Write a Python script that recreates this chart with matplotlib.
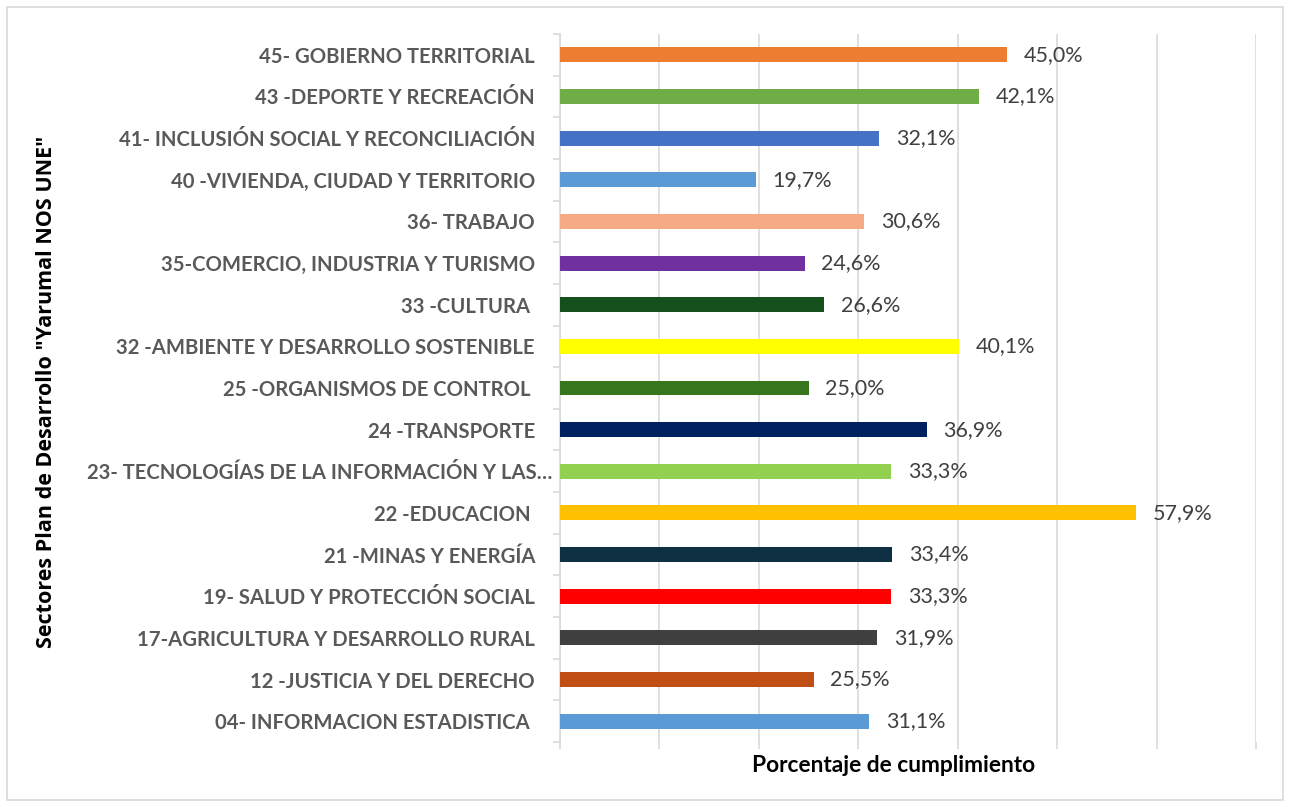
import matplotlib
matplotlib.use("Agg")
import matplotlib.pyplot as plt
from matplotlib.patches import Rectangle
import matplotlib.transforms as mtransforms
import numpy as np

categories = [
    "45- GOBIERNO TERRITORIAL",
    "43 -DEPORTE Y RECREACIÓN",
    "41- INCLUSIÓN SOCIAL Y RECONCILIACIÓN",
    "40 -VIVIENDA, CIUDAD Y TERRITORIO",
    "36- TRABAJO",
    "35-COMERCIO, INDUSTRIA Y TURISMO",
    "33 -CULTURA ",
    "32 -AMBIENTE Y DESARROLLO SOSTENIBLE",
    "25 -ORGANISMOS DE CONTROL ",
    "24 -TRANSPORTE",
    "23- TECNOLOGÍAS DE LA INFORMACIÓN Y LAS…",
    "22 -EDUCACION ",
    "21 -MINAS Y ENERGÍA",
    "19- SALUD Y PROTECCIÓN SOCIAL",
    "17-AGRICULTURA Y DESARROLLO RURAL",
    "12 -JUSTICIA Y DEL DERECHO",
    "04- INFORMACION ESTADISTICA ",
]
values = [45.0, 42.1, 32.1, 19.7, 30.6, 24.6, 26.6, 40.1, 25.0, 36.9,
          33.3, 57.9, 33.4, 33.3, 31.9, 25.5, 31.1]
colors = ["#ED7D31", "#70AD47", "#4472C4", "#5B9BD5", "#F4AA84", "#7030A0",
          "#154F1B", "#FFFF00", "#38761D", "#002060", "#92D050", "#FFC000",
          "#0E3042", "#FF0000", "#404040", "#C04F15", "#5B9BD5"]
xlabel = "Porcentaje de cumplimiento"
ylabel = 'Sectores Plan de Desarrollo "Yarumal NOS UNE"'

plt.rcParams['font.family'] = ['Lato', 'DejaVu Sans']

W, H = 1290, 807
fig = plt.figure(figsize=(W/100, H/100), dpi=100)
fig.patch.set_facecolor("white")
fig.patches.append(Rectangle((7/W, 7/H), (1283-7)/W, (800-7)/H,
                             transform=fig.transFigure, fill=False,
                             edgecolor="#d9d9d9", linewidth=1.2))

left, right, top, bottom = 560, 1256, 34, 742
ax = fig.add_axes([left/W, 1-bottom/H, (right-left)/W, (bottom-top)/H])

n = len(categories)
y = np.arange(n)
ax.barh(y, values, height=0.36, color=colors, zorder=3)
ax.set_ylim(n-0.5, -0.5)
ax.set_xlim(0, 70)
ax.set_xticks(np.arange(0, 71, 10))
ax.set_xticklabels([])
ax.grid(axis="x", color="#d9d9d9", linewidth=1.2, zorder=0)
ax.set_yticks(y)
ax.set_yticklabels(categories, fontsize=14.6, fontweight="bold", color="#595959")
ax.set_yticks(np.arange(-0.5, n, 1), minor=True)
ax.tick_params(axis="y", which="major", length=0, pad=18)
ax.tick_params(axis="y", which="minor", length=5, color="#d9d9d9", width=1.2)
ax.tick_params(axis="x", which="major", length=5, color="#d9d9d9", width=1.2)
for s in ["top", "right", "bottom"]:
    ax.spines[s].set_visible(False)
ax.spines["left"].set_color("#d9d9d9")
ax.spines["left"].set_linewidth(1.2)

# the truncated label overflows toward the axis in the reference
lbl = ax.get_yticklabels()[10]
lbl.set_transform(lbl.get_transform() +
                  mtransforms.ScaledTranslation(17/100, 0, fig.dpi_scale_trans))

for yi, v in zip(y, values):
    ax.annotate(f"{v:.1f}%".replace(".", ","), (v, yi), xytext=(12, 0),
                textcoords="offset points", va="center", ha="left",
                fontsize=15.5, color="#404040")

fig.text(894/W, 1-765/H, xlabel, fontsize=16.4, fontweight="bold",
         color="black", ha="center", va="center")
fig.text(47/W, 1-392/H, ylabel, fontsize=15.5, fontweight="bold",
         color="black", ha="center", va="center", rotation=90,
         family=["Open Sans", "DejaVu Sans"])

fig.savefig("out.png", dpi=100)
